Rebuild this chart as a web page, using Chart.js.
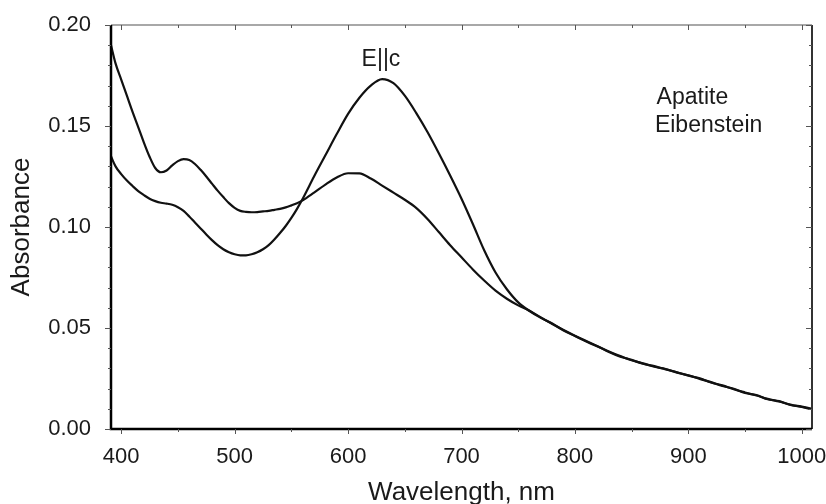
<!DOCTYPE html>
<html>
<head>
<meta charset="utf-8">
<script src="https://cdn.jsdelivr.net/npm/chart.js@4/dist/chart.umd.min.js"></script>
<style>
  body { margin: 0; background: #fff; }
  canvas { display: block; }
</style>
</head>
<body>
<canvas id="spectrum" width="826" height="504"></canvas>
<script>
// wavelength grid, nm
var wavelength = [391, 395, 400, 405, 410, 415, 420, 425, 430, 435, 440, 445, 450, 455, 460, 465, 470, 475, 480, 485,
	490, 495, 500, 505, 510, 515, 520, 525, 530, 535, 540, 545, 550, 555, 560, 570, 580, 590, 600, 610,
	620, 630, 640, 650, 660, 670, 680, 690, 700, 710, 720, 730, 740, 750, 760, 770, 780, 790, 800, 810,
	820, 830, 840, 850, 860, 870, 880, 890, 900, 910, 920, 930, 940, 950, 960, 970, 980, 990, 1000, 1008];

// curve that starts high at 400 nm
var absPerp = [0.190, 0.181, 0.173, 0.165, 0.157, 0.1495, 0.1418, 0.1348, 0.1292, 0.1271, 0.1280, 0.1305, 0.1326, 0.1336, 0.1332, 0.1312, 0.1283, 0.1250, 0.1215, 0.1180,
	0.1148, 0.1118, 0.1095, 0.1080, 0.1075, 0.1073, 0.1074, 0.1077, 0.1080, 0.1085, 0.1090, 0.1097, 0.1107, 0.1118, 0.1132, 0.1170, 0.1210, 0.1245, 0.1266, 0.1265,
	0.1240, 0.1205, 0.1170, 0.1135, 0.1095, 0.1040, 0.0975, 0.0910, 0.0850, 0.0790, 0.0735, 0.0685, 0.0645, 0.0612, 0.0585, 0.0552, 0.0520, 0.0490, 0.0462, 0.0436,
	0.0410, 0.0381, 0.0358, 0.0342, 0.0323, 0.0311, 0.0295, 0.0281, 0.0264, 0.0251, 0.0230, 0.0216, 0.0197, 0.0181, 0.0166, 0.0149, 0.0136, 0.0121, 0.0109, 0.0099];

// E||c curve with the big 630 nm band
var absPar = [0.135, 0.1300, 0.1262, 0.1230, 0.1203, 0.1178, 0.1158, 0.1140, 0.1128, 0.1120, 0.1116, 0.1110, 0.1098, 0.1080, 0.1052, 0.1022, 0.0993, 0.0963, 0.0935, 0.0910,
	0.0890, 0.0875, 0.0865, 0.0860, 0.0860, 0.0865, 0.0875, 0.0890, 0.0910, 0.0938, 0.0970, 0.1005, 0.1045, 0.1090, 0.1140, 0.1250, 0.1355, 0.1460, 0.1560, 0.1640,
	0.1700, 0.1732, 0.1712, 0.1650, 0.1565, 0.1470, 0.1365, 0.1255, 0.1140, 0.1015, 0.0885, 0.0775, 0.0692, 0.0627, 0.0584, 0.0550, 0.0522, 0.0488, 0.0460, 0.0433,
	0.0408, 0.0384, 0.0361, 0.0340, 0.0325, 0.0308, 0.0297, 0.0279, 0.0266, 0.0248, 0.0232, 0.0213, 0.0199, 0.0178, 0.0168, 0.0147, 0.0138, 0.0119, 0.0111, 0.0101];

var xTicks = [400, 500, 600, 700, 800, 900, 1000];
var xMinor = [450, 550, 650, 750, 850, 950];
var yTicks = [0, 0.05, 0.10, 0.15, 0.20];
var yMinor = [0.01, 0.02, 0.03, 0.04, 0.06, 0.07, 0.08, 0.09, 0.11, 0.12, 0.13, 0.14, 0.16, 0.17, 0.18, 0.19];

var notes = [
	{ text: 'E||c', x: 629, y: 0.1827, align: 'center' },
	{ text: 'Apatite', x: 872, y: 0.1639, align: 'left' },
	{ text: 'Eibenstein', x: 870.5, y: 0.150, align: 'left' }
];

var FONT = '"Liberation Sans", Arial, sans-serif';
var INK = '#1a1a1a';

function toPoints(xs, ys) {
	return xs.map(function(x, i) { return { x: x, y: ys[i] }; });
}

// frame + tick marks (left/bottom out, top/right in) + text notes
var framePlugin = {
	id: 'frame',
	afterDatasetsDraw: function(chart) {
		var ctx = chart.ctx, a = chart.chartArea;
		var sx = chart.scales.x, sy = chart.scales.y;
		ctx.save();

		ctx.lineCap = 'butt';
		ctx.strokeStyle = '#a8a8a8';
		ctx.lineWidth = 2;
		ctx.beginPath(); ctx.moveTo(a.left, a.top); ctx.lineTo(a.right, a.top); ctx.stroke();
		ctx.strokeStyle = '#333';
		ctx.beginPath(); ctx.moveTo(a.right, a.top); ctx.lineTo(a.right, a.bottom); ctx.stroke();
		ctx.strokeStyle = '#000';
		ctx.lineWidth = 2.5;
		ctx.beginPath(); ctx.moveTo(a.left, a.top); ctx.lineTo(a.left, a.bottom); ctx.lineTo(a.right, a.bottom); ctx.stroke();

		ctx.lineWidth = 1;
		ctx.strokeStyle = '#555';
		function xt(v, len) {
			var p = Math.round(sx.getPixelForValue(v)) + 0.5;
			ctx.beginPath(); ctx.moveTo(p, a.bottom); ctx.lineTo(p, a.bottom + len); ctx.stroke();
			ctx.beginPath(); ctx.moveTo(p, a.top); ctx.lineTo(p, a.top + len); ctx.stroke();
		}
		function yt(v, len) {
			var p = Math.round(sy.getPixelForValue(v)) + 0.5;
			ctx.beginPath(); ctx.moveTo(a.left, p); ctx.lineTo(a.left - len, p); ctx.stroke();
			ctx.beginPath(); ctx.moveTo(a.right, p); ctx.lineTo(a.right - len, p); ctx.stroke();
		}
		xTicks.forEach(function(v) { xt(v, 5); });
		xMinor.forEach(function(v) { xt(v, 3); });
		yTicks.forEach(function(v) { yt(v, 6); });
		yMinor.forEach(function(v) { yt(v, 3); });

		ctx.fillStyle = INK;
		ctx.font = '23px ' + FONT;
		ctx.textBaseline = 'middle';
		notes.forEach(function(n) {
			ctx.textAlign = n.align;
			ctx.fillText(n.text, sx.getPixelForValue(n.x), sy.getPixelForValue(n.y));
		});
		ctx.restore();
	}
};

new Chart(document.getElementById('spectrum'), {
	type: 'line',
	data: {
		datasets: [
			{ data: toPoints(wavelength, absPerp), borderColor: '#111', borderWidth: 2.2, pointRadius: 0, cubicInterpolationMode: 'monotone' },
			{ data: toPoints(wavelength, absPar), borderColor: '#111', borderWidth: 2.2, pointRadius: 0, cubicInterpolationMode: 'monotone' }
		]
	},
	options: {
		responsive: false,
		animation: false,
		layout: { padding: { top: 25, right: 14, left: 0, bottom: 0 } },
		plugins: { legend: { display: false }, tooltip: { enabled: false } },
		scales: {
			x: {
				type: 'linear',
				min: 391,
				max: 1009,
				grid: { display: false, drawTicks: false },
				border: { display: false },
				afterBuildTicks: function(scale) {
					scale.ticks = xTicks.map(function(v) { return { value: v }; });
				},
				afterFit: function(scale) {
					scale.height = 75;
					scale.paddingLeft = 0;
					scale.paddingRight = 0;
				},
				ticks: {
					padding: 15, color: INK, font: { family: FONT, size: 22 }, maxRotation: 0,
					callback: function(v) { return String(v); }
				},
				title: { display: true, text: 'Wavelength, nm', color: INK, font: { family: FONT, size: 26, lineHeight: 1 }, padding: { top: 0, bottom: -2 } }
			},
			y: {
				min: 0,
				max: 0.2,
				grid: { display: false, drawTicks: false },
				border: { display: false },
				afterBuildTicks: function(scale) {
					scale.ticks = yTicks.map(function(v) { return { value: v }; });
				},
				afterFit: function(scale) {
					scale.width = 111;
					scale.paddingTop = 0;
					scale.paddingBottom = 0;
				},
				ticks: {
					padding: 20, color: INK, font: { family: FONT, size: 22 },
					callback: function(v) { return v.toFixed(2); }
				},
				title: { display: true, text: 'Absorbance', color: INK, font: { family: FONT, size: 26, lineHeight: 1 }, padding: { top: 9, bottom: 0 } }
			}
		}
	},
	plugins: [framePlugin]
});
</script>
</body>
</html>
